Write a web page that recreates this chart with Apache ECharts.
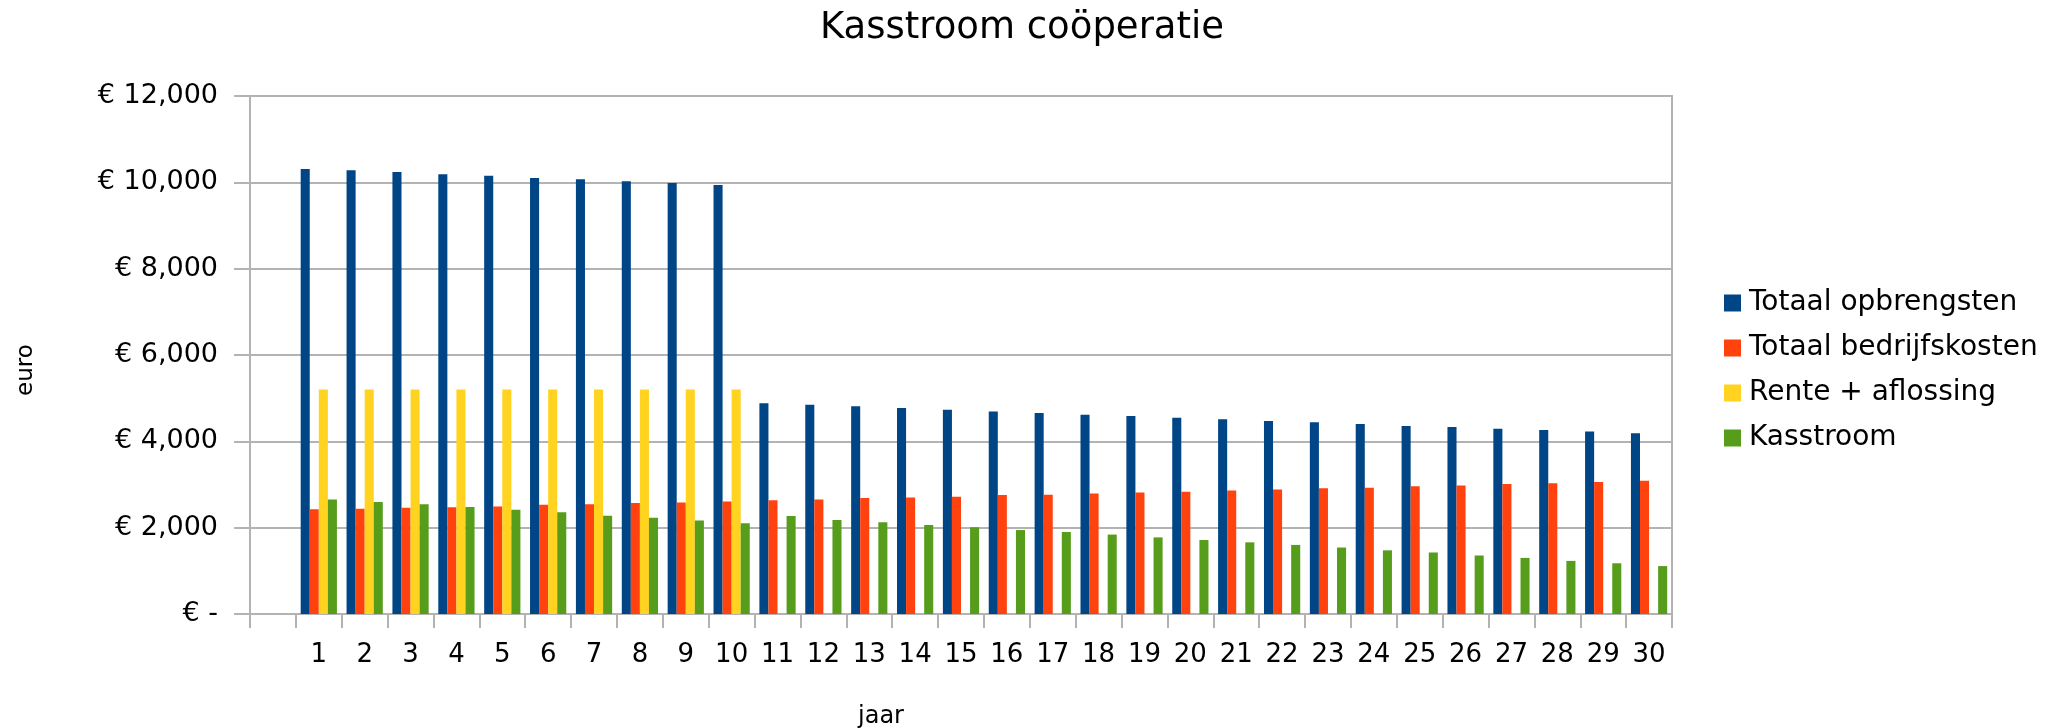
<!DOCTYPE html>
<html>
<head>
<meta charset="utf-8">
<title>Kasstroom coöperatie</title>
<script src="https://cdn.jsdelivr.net/npm/echarts@6/dist/echarts.min.js"></script>
<style>
    html, body { margin: 0; padding: 0; background: #ffffff; }
    #chart { width: 2072px; height: 728px; }
</style>
</head>
<body>
<div id="chart"></div>
<script>
// years (first slot is empty in the original sheet)
const years = ['', '1', '2', '3', '4', '5', '6', '7', '8', '9', '10',
    '11', '12', '13', '14', '15', '16', '17', '18', '19', '20',
    '21', '22', '23', '24', '25', '26', '27', '28', '29', '30'];

const totaalOpbrengsten = [null,
    10310, 10280, 10240, 10190, 10155, 10100, 10070, 10025, 9985, 9940,
    4885, 4845, 4815, 4770, 4730, 4690, 4655, 4615, 4585, 4545,
    4510, 4470, 4440, 4400, 4355, 4330, 4290, 4260, 4225, 4190];

const totaalBedrijfskosten = [null,
    2425, 2440, 2460, 2475, 2490, 2530, 2540, 2570, 2585, 2605,
    2635, 2655, 2690, 2700, 2715, 2755, 2760, 2790, 2815, 2830,
    2860, 2885, 2915, 2925, 2960, 2975, 3010, 3030, 3060, 3085];

const renteAflossing = [null,
    5200, 5200, 5200, 5200, 5200, 5200, 5200, 5200, 5200, 5200,
    null, null, null, null, null, null, null, null, null, null,
    null, null, null, null, null, null, null, null, null, null];

const kasstroom = [null,
    2655, 2595, 2540, 2480, 2415, 2355, 2275, 2230, 2165, 2105,
    2270, 2175, 2125, 2060, 2010, 1945, 1900, 1840, 1775, 1715,
    1660, 1600, 1540, 1475, 1425, 1355, 1300, 1230, 1175, 1110];

const seriesNames = ['Totaal opbrengsten', 'Totaal bedrijfskosten', 'Rente + aflossing', 'Kasstroom'];

let chart = echarts.init(document.getElementById('chart'), null, { renderer: 'canvas' });

const font = 'DejaVu Sans, Liberation Sans, sans-serif';
const gridColor = '#b3b3b3';

let option = {
    animation: false,
    backgroundColor: '#ffffff',
    textStyle: { fontFamily: font },

    // LibreOffice default palette
    color: ['#004586', '#ff420e', '#ffd320', '#579d1c'],

    title: [
        {
            text: 'Kasstroom coöperatie',
            left: 1017,
            top: 5,
            textAlign: 'center',
            textStyle: { fontFamily: font, fontSize: 37, fontWeight: 'normal', color: '#000' },
        },
        {
            text: 'jaar',
            left: 876,
            top: 700,
            textAlign: 'center',
            textStyle: { fontFamily: font, fontSize: 24, fontWeight: 'normal', color: '#000' },
        },
    ],

    legend: {
        orient: 'vertical',
        left: 1724,
        top: 289,
        padding: 0,
        icon: 'rect',
        itemWidth: 17,
        itemHeight: 17,
        itemGap: 17,
        data: seriesNames,
        textStyle: { fontFamily: font, fontSize: 28, color: '#000', lineHeight: 28, padding: [0, 0, 0, 3] },
    },

    grid: {
        left: 250,
        right: 400,
        top: 96,
        bottom: 114,
        outerBoundsMode: 'none',
        show: true,
        borderColor: gridColor,
        borderWidth: 2,
    },

    xAxis: {
        type: 'category',
        data: years,
        boundaryGap: true,
        axisLine: { lineStyle: { color: gridColor, width: 2 } },
        axisTick: { show: true, length: 14, alignWithLabel: false, lineStyle: { color: gridColor, width: 2 } },
        axisLabel: { fontSize: 26, color: '#000', margin: 28, interval: 0 },
        splitLine: { show: false },
    },

    yAxis: {
        type: 'value',
        min: 0,
        max: 12000,
        interval: 2000,
        name: 'euro',
        nameLocation: 'middle',
        nameRotate: 90,
        nameGap: 212,
        nameTextStyle: { fontSize: 23, color: '#000', padding: [0, 30, 0, 0] },
        axisLine: { show: true, lineStyle: { color: gridColor, width: 2 } },
        axisTick: { show: true, length: 16, lineStyle: { color: gridColor, width: 2 } },
        axisLabel: {
            fontSize: 27,
            color: '#000',
            margin: 32,
            formatter: (v) => (v === 0 ? '€ -' : '€ ' + v.toLocaleString('en-US')),
        },
        splitLine: { show: true, lineStyle: { color: gridColor, width: 2 } },
    },

    series: [
        { name: seriesNames[0], type: 'bar', barGap: '0%', barCategoryGap: '21%', data: totaalOpbrengsten },
        { name: seriesNames[1], type: 'bar', barGap: '0%', barCategoryGap: '21%', data: totaalBedrijfskosten },
        { name: seriesNames[2], type: 'bar', barGap: '0%', barCategoryGap: '21%', data: renteAflossing },
        { name: seriesNames[3], type: 'bar', barGap: '0%', barCategoryGap: '21%', data: kasstroom },
    ],
};

chart.setOption(option);
</script>
</body>
</html>
